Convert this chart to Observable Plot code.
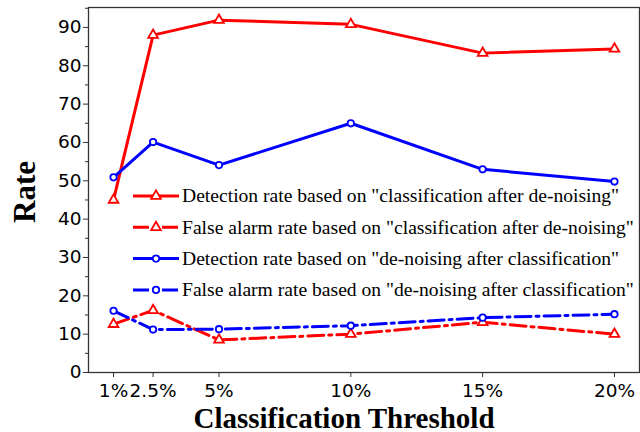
<!DOCTYPE html>
<html>
<head>
<meta charset="utf-8">
<script src="https://cdn.jsdelivr.net/npm/d3@7"></script>
<script src="https://cdn.jsdelivr.net/npm/@observablehq/plot@0.6"></script>
<style>
  html, body { margin: 0; padding: 0; background: #fff; }
</style>
</head>
<body>
<div id="chart"></div>
<script>
// Classification thresholds (percent) and their tick labels
const thresholds = [1, 2.5, 5, 10, 15, 20];
const tickLabels = ["1%", "2.5%", "5%", "10%", "15%", "20%"];

// Rates (%) for the two processing orders
const detClassAfterDenoise = [45, 88, 91.9, 90.8, 83.3, 84.4];
const faClassAfterDenoise = [12.6, 16.2, 8.5, 10.0, 13.1, 10.0];
const detDenoiseAfterClass = [50.9, 60.1, 54.1, 65, 53, 49.8];
const faDenoiseAfterClass = [16.1, 11.2, 11.3, 12.2, 14.3, 15.2];

const seriesNames = [
  'Detection rate based on "classification after de-noising"',
  'False alarm rate based on "classification after de-noising"',
  'Detection rate based on "de-noising after classification"',
  'False alarm rate based on "de-noising after classification"'
];
const seriesValues = [detClassAfterDenoise, faClassAfterDenoise, detDenoiseAfterClass, faDenoiseAfterClass];
const seriesColors = ["#ff0000", "#ff0000", "#0000ff", "#0000ff"];
const seriesSymbols = ["triangle", "triangle", "circle", "circle"];
const seriesDash = [null, "16,5,3,5", null, "16,5,3,5"];

const yMajor = d3.range(0, 91, 10);
const yMinor = d3.range(5, 96, 10);

const serifFont = "Liberation Serif";
const tickFontSize = 18.5;

const series = seriesNames.map((name, i) => ({
  name,
  color: seriesColors[i],
  symbol: seriesSymbols[i],
  dash: seriesDash[i],
  rows: thresholds.map((t, j) => ({threshold: t, rate: seriesValues[i][j]}))
}));

const lineMarks = series.flatMap(s => [
  Plot.line(s.rows, {x: "threshold", y: "rate", stroke: s.color, strokeWidth: 3, strokeDasharray: s.dash, strokeLinejoin: "round"}),
  Plot.dot(s.rows, {x: "threshold", y: "rate", stroke: s.color, fill: "white", symbol: s.symbol, r: s.symbol === "triangle" ? 3.6 : 3.2, strokeWidth: 1.8})
]);

const chart = Plot.plot({
  width: 640,
  height: 432,
  marginLeft: 88,
  marginRight: 1,
  marginTop: 7,
  marginBottom: 60,
  style: {fontFamily: "DejaVu Sans", fontSize: `${tickFontSize}px`, color: "#000", background: "white"},
  x: {type: "linear", domain: [0.05, 20.95]},
  y: {domain: [0, 95.2]},
  marks: [
    Plot.axisX({ticks: thresholds, tickFormat: (d, i) => tickLabels[i], tickSize: 5, tickPadding: 6, stroke: "#333", label: null, fontSize: tickFontSize}),
    Plot.axisY({ticks: yMajor, tickSize: 5, tickPadding: 2, stroke: "#333", label: null, fontSize: tickFontSize}),
    Plot.axisY({ticks: yMinor, tickSize: 3, stroke: "#333", text: null, label: null}),
    ...lineMarks,
    Plot.frame({stroke: "#333", strokeWidth: 1.3}),
    Plot.text(["Rate"], {frameAnchor: "left", textAnchor: "middle", dx: -63, dy: 2, rotate: -90, fontSize: 31, fontWeight: "bold", fontFamily: serifFont, fill: "#000"}),
    Plot.text(["Classification Threshold"], {frameAnchor: "bottom", textAnchor: "middle", dx: -20, dy: 55, lineAnchor: "bottom", fontSize: 29, fontWeight: "bold", fontFamily: serifFont, fill: "#000"})
  ]
});

document.getElementById("chart").appendChild(chart);

// Legend drawn inside the plot area, below the detection curves
const legend = d3.select(chart).append("g")
  .attr("transform", "translate(133,196)")
  .attr("font-family", serifFont)
  .attr("font-size", 19.6)
  .attr("text-anchor", "start");
const rowGap = 31.3;
series.forEach((s, i) => {
  const row = legend.append("g").attr("transform", `translate(0,${i * rowGap})`);
  row.append("line")
    .attr("x1", 0).attr("x2", 46).attr("y1", 0).attr("y2", 0)
    .attr("stroke", s.color).attr("stroke-width", 3)
    .attr("stroke-dasharray", s.dash);
  const sym = s.symbol === "triangle" ? d3.symbolTriangle : d3.symbolCircle;
  const size = s.symbol === "triangle" ? Math.PI * 3.6 * 3.6 : Math.PI * 3.2 * 3.2;
  row.append("path")
    .attr("d", d3.symbol(sym, size)())
    .attr("transform", "translate(23,0)")
    .attr("fill", "white").attr("stroke", s.color).attr("stroke-width", 1.8);
  row.append("text")
    .attr("x", 49).attr("y", 0).attr("dy", "0.33em")
    .attr("text-anchor", "start")
    .attr("fill", "#000")
    .text(s.name);
});
</script>
</body>
</html>
